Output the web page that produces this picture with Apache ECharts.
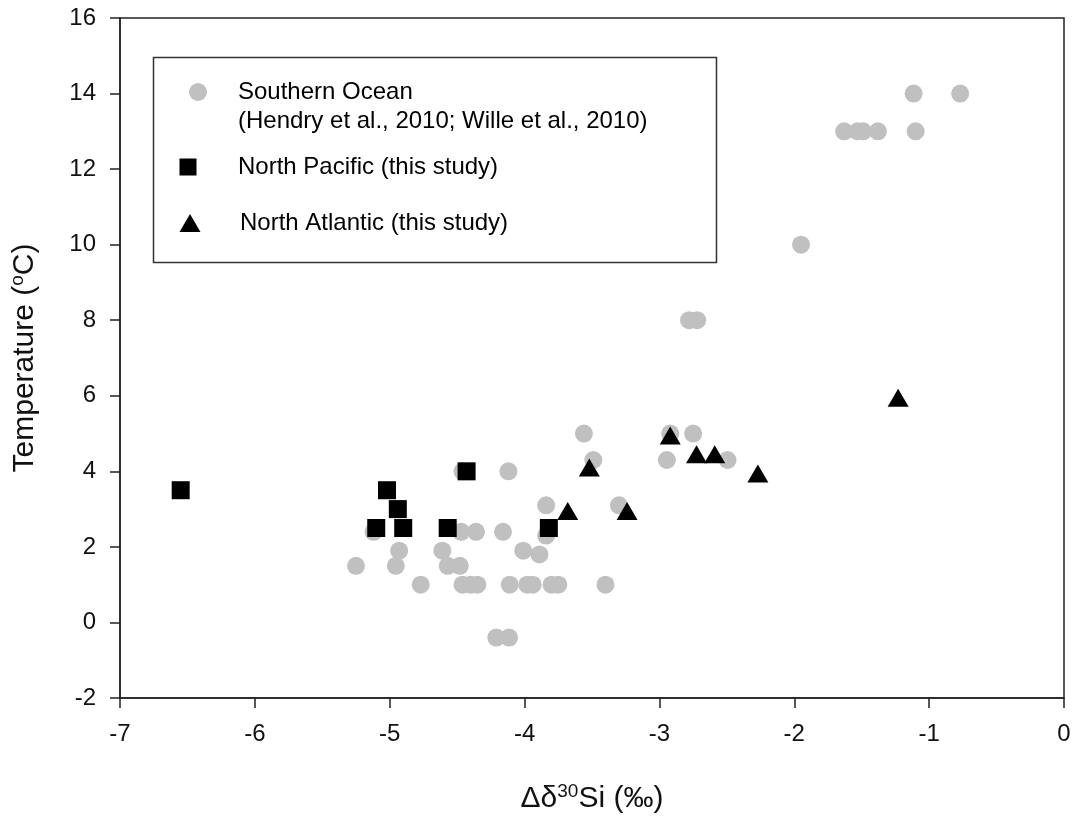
<!DOCTYPE html>
<html>
<head>
<meta charset="utf-8">
<script src="https://cdn.jsdelivr.net/npm/echarts@6/dist/echarts.min.js"></script>
<style>html,body{margin:0;padding:0;background:#fff;}#c{width:1075px;height:819px;}</style>
</head>
<body>
<div id="c"></div>
<script>
// Southern Ocean (Hendry et al., 2010; Wille et al., 2010)
const soX = [-1.115, -0.77, -1.63, -1.53, -1.49, -1.38, -1.10, -1.95, -2.78, -2.72,
  -3.56, -2.92, -2.75, -3.49, -2.945, -2.495, -4.12, -4.46, -3.84, -3.30,
  -5.12, -4.47, -4.36, -4.16, -3.84, -4.93, -4.61, -4.01, -3.89,
  -5.25, -4.955, -4.57, -4.48,
  -4.77, -4.46, -4.40, -4.35, -4.11, -3.98, -3.94, -3.80, -3.75, -3.40,
  -4.21, -4.115];
const soY = [14, 14, 13, 13, 13, 13, 13, 10, 8, 8,
  5, 5, 5, 4.3, 4.3, 4.3, 4.0, 4.0, 3.1, 3.1,
  2.4, 2.4, 2.4, 2.4, 2.3, 1.9, 1.9, 1.9, 1.8,
  1.5, 1.5, 1.5, 1.5,
  1, 1, 1, 1, 1, 1, 1, 1, 1, 1,
  -0.4, -0.4];
// North Pacific (this study)
const npX = [-6.55, -5.02, -4.94, -5.10, -4.90, -4.57, -4.43, -3.82];
const npY = [3.5, 3.5, 3.0, 2.5, 2.5, 2.5, 4.0, 2.5];
// North Atlantic (this study)
const naX = [-3.52, -3.68, -2.92, -2.725, -2.59, -2.27, -3.24, -1.23];
const naY = [4.1, 2.95, 4.95, 4.45, 4.45, 3.94, 2.95, 5.95];

const seriesNames = ['Southern Ocean', 'North Pacific (this study)', 'North Atlantic (this study)'];
const soNote = '(Hendry et al., 2010; Wille et al., 2010)';
const xTicks = { min: -7, max: 0, interval: 1 };
const yTicks = { min: -2, max: 16, interval: 2 };

const FONT = "'Liberation Sans', Arial, sans-serif";
const zip = (xs, ys) => xs.map((x, i) => [x, ys[i]]);

const chart = echarts.init(document.getElementById('c'), null, { renderer: 'canvas' });

function legendAt(name, icon, w, h, left, top, padLeft) {
  return {
    data: [{ name: name, icon: icon }],
    left: left, top: top, padding: 0,
    itemWidth: w, itemHeight: h,
    selectedMode: false,
    textStyle: { fontFamily: FONT, fontSize: 24, color: '#000', lineHeight: 24, padding: [0, 0, 0, padLeft] }
  };
}

const titleRich = {
  a: { fontFamily: FONT, fontSize: 30, color: '#111', lineHeight: 34 },
  s: { fontFamily: FONT, fontSize: 19, color: '#111', verticalAlign: 'top', lineHeight: 20 }
};

chart.setOption({
  animation: false,
  backgroundColor: '#fff',
  textStyle: { fontFamily: FONT },
  grid: { left: 120, right: 11, top: 18, bottom: 119, show: true, borderColor: '#222', borderWidth: 1.5, backgroundColor: 'transparent' },
  xAxis: {
    type: 'value', min: xTicks.min, max: xTicks.max, interval: xTicks.interval,
    axisLine: { show: true, onZero: false, lineStyle: { color: '#222', width: 1.5 } },
    axisTick: { show: true, length: 10, lineStyle: { color: '#222', width: 1.5 } },
    axisLabel: { fontFamily: FONT, fontSize: 24, color: '#111', margin: 24 },
    splitLine: { show: false },
    name: '{a|Δδ}{s|30}{a|Si (‰)}',
    nameLocation: 'middle', nameGap: 84,
    nameTextStyle: { rich: titleRich }
  },
  yAxis: {
    type: 'value', min: yTicks.min, max: yTicks.max, interval: yTicks.interval,
    axisLine: { show: true, onZero: false, lineStyle: { color: '#222', width: 1.5 } },
    axisTick: { show: true, length: 10, lineStyle: { color: '#222', width: 1.5 } },
    axisLabel: { fontFamily: FONT, fontSize: 24, color: '#111', margin: 24 },
    splitLine: { show: false },
    name: '{a|Temperature (}{s|o}{a|C)}',
    nameLocation: 'middle', nameGap: 78, nameRotate: 90,
    nameTextStyle: { rich: titleRich }
  },
  legend: [
    legendAt(seriesNames[0], 'circle', 18, 18, 189, 80, 26),
    legendAt(seriesNames[1], 'rect', 17, 17, 179.5, 155, 36.5),
    legendAt(seriesNames[2], 'triangle', 21, 18, 179.5, 211, 34.5)
  ],
  graphic: [
    { type: 'rect', shape: { x: 153.5, y: 57.5, width: 563, height: 205 }, style: { fill: 'none', stroke: '#333', lineWidth: 1.5 }, z: 10 },
    { type: 'text', x: 238, y: 121, style: { text: soNote, fontFamily: FONT, fontSize: 24, fill: '#000', verticalAlign: 'middle', align: 'left' }, z: 10 }
  ],
  series: [
    { name: seriesNames[0], type: 'scatter', symbol: 'circle', symbolSize: 18, itemStyle: { color: '#c0c0c0', opacity: 1 }, data: zip(soX, soY), z: 2 },
    { name: seriesNames[1], type: 'scatter', symbol: 'rect', symbolSize: 18, itemStyle: { color: '#000', opacity: 1 }, data: zip(npX, npY), z: 3 },
    { name: seriesNames[2], type: 'scatter', symbol: 'triangle', symbolSize: [21, 18], itemStyle: { color: '#000', opacity: 1 }, data: zip(naX, naY), z: 4 }
  ]
});
</script>
</body>
</html>
